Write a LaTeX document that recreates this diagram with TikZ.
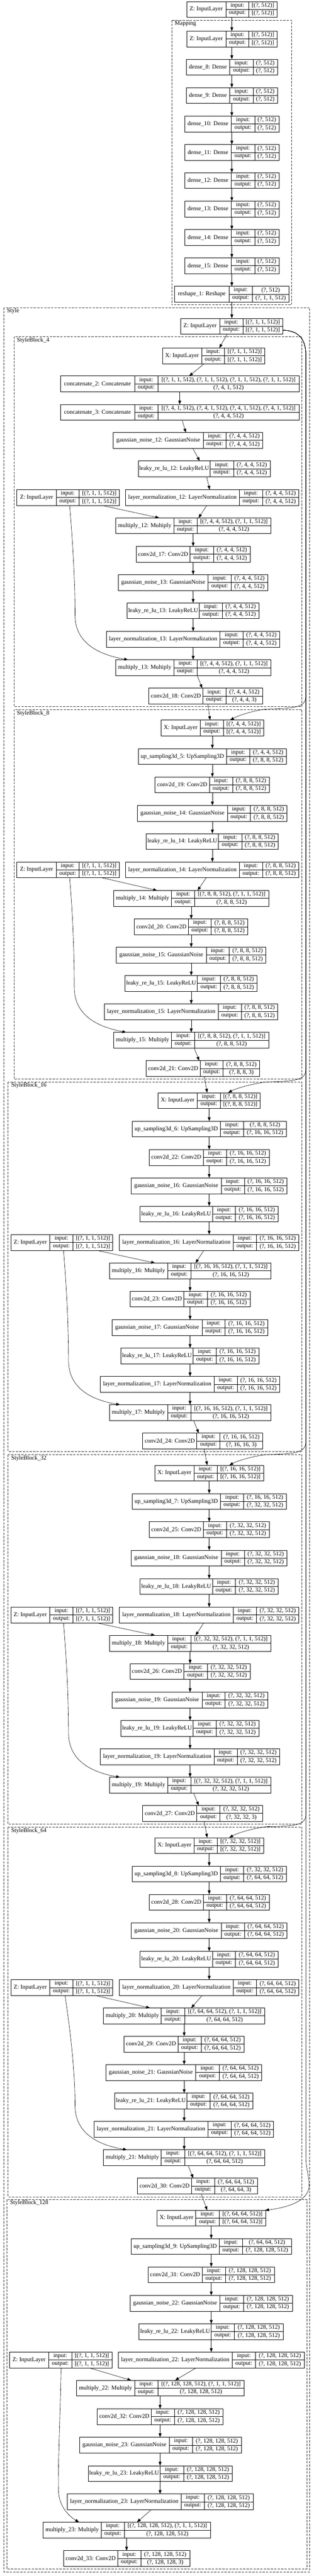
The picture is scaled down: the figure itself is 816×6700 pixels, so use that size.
\documentclass[tikz,border=0pt]{standalone}
\usepackage{fontspec}
\setmainfont{Liberation Serif}
\usetikzlibrary{arrows.meta,calc}
\newcommand\fs{\fontsize{15.4}{18}\selectfont}
\tikzset{
  clus/.style={draw=black!80, dash pattern=on 6pt off 3pt, line width=0.9pt},
  clab/.style={anchor=west, inner sep=0pt, font=\fs},
  lbox/.style={draw=black, line width=1pt, inner sep=0pt, outer sep=0pt, minimum height=41pt},
  cline/.style={draw=black, line width=1pt},
  txt/.style={inner sep=0pt, font=\fs},
  edge/.style={draw=black, line width=0.8pt, -{Triangle[length=10pt,width=7.5pt]}},
}
\newcommand\lay[9]{%
  \pgfmathsetmacro\lw{#5-#2}%
  \node[lbox, minimum width=\lw pt, anchor=north west] (#1) at (#2,#6) {};
  \draw[cline] (#3,#6) -- (#3,{#6+41}) (#4,#6) -- (#4,{#6+41}) (#3,{#6+20.5}) -- (#5,{#6+20.5});
  \node[txt] (#1-l) at ({(#2+#3)/2},{#6+20.5}) {#7};
  \node[txt] (#1-i) at ({(#3+#4)/2},{#6+10.25}) {input:};
  \node[txt] (#1-o) at ({(#3+#4)/2},{#6+30.75}) {output:};
  \node[txt] (#1-iv) at ({(#4+#5)/2},{#6+10.25}) {#8};
  \node[txt] (#1-ov) at ({(#4+#5)/2},{#6+30.75}) {#9};
}
\newcommand\ed[4]{\draw[edge] (#1.south -| #3,0) -- (#2.north -| #4,0);}
\newcommand\Zv{[(?, 1, 1, 512)]}
\begin{document}
\begin{tikzpicture}[x=1pt,y=-1pt]
\useasboundingbox (0,0) rectangle (816,6700);
\fill[white] (0,0) rectangle (816,6700);
% clusters
\draw[clus] (446,52.5) rectangle (758,793); \node[clab] (lMap) at (454,62) {Mapping};
\draw[clus] (10.4,800) rectangle (805,6689); \node[clab] (lSty) at (18,809.5) {Style};
\draw[clus] (36.4,876) rectangle (785,1837.5); \node[clab] (lSB4) at (44,886) {StyleBlock\_4};
\draw[clus] (36.4,1845) rectangle (785,2806.5); \node[clab] (lSB8) at (44,1855) {StyleBlock\_8};
\draw[clus] (21,2814) rectangle (785,3775); \node[clab] (lSB16) at (29,2823.6) {StyleBlock\_16};
\draw[clus] (21,3783) rectangle (785,4744.6); \node[clab] (lSB32) at (29,3792.5) {StyleBlock\_32};
\draw[clus] (21,4752) rectangle (785,5713.6); \node[clab] (lSB64) at (29,4762) {StyleBlock\_64};
\draw[clus] (18,5720.7) rectangle (797.6,6682); \node[clab] (lSB128) at (26,5730) {StyleBlock\_128};
% Mapping
\lay{zT}{485}{587}{647}{720}{4}{Z: InputLayer}{[(?, 512)]}{[(?, 512)]}
\lay{zM}{485}{587}{647}{720}{81}{Z: InputLayer}{[(?, 512)]}{[(?, 512)]}
\lay{d8}{484}{597}{658}{721}{154}{dense\_8: Dense}{(?, 512)}{(?, 512)}
\lay{d9}{484}{597}{658}{721}{228}{dense\_9: Dense}{(?, 512)}{(?, 512)}
\lay{d10}{480}{601}{662}{725}{302}{dense\_10: Dense}{(?, 512)}{(?, 512)}
\lay{d11}{480}{601}{662}{725}{376}{dense\_11: Dense}{(?, 512)}{(?, 512)}
\lay{d12}{480}{601}{662}{725}{449}{dense\_12: Dense}{(?, 512)}{(?, 512)}
\lay{d13}{480}{601}{662}{725}{523}{dense\_13: Dense}{(?, 512)}{(?, 512)}
\lay{d14}{480}{601}{662}{725}{597}{dense\_14: Dense}{(?, 512)}{(?, 512)}
\lay{d15}{480}{601}{662}{725}{670.7}{dense\_15: Dense}{(?, 512)}{(?, 512)}
\lay{rs}{454}{595}{656}{751}{744.6}{reshape\_1: Reshape}{(?, 512)}{(?, 1, 1, 512)}
% Style
\lay{zS}{469}{571}{631}{735}{828}{Z: InputLayer}{\Zv}{\Zv}
% SB4
\lay{x4}{422}{524}{584}{688}{905}{X: InputLayer}{\Zv}{\Zv}
\lay{cat2}{157}{350}{410}{778}{978}{concatenate\_2: Concatenate}{[(?, 1, 1, 512), (?, 1, 1, 512), (?, 1, 1, 512), (?, 1, 1, 512)]}{(?, 4, 1, 512)}
\lay{cat3}{157}{350}{410}{778}{1052}{concatenate\_3: Concatenate}{[(?, 4, 1, 512), (?, 4, 1, 512), (?, 4, 1, 512), (?, 4, 1, 512)]}{(?, 4, 4, 512)}
\lay{gn12}{294.5}{528}{588}{683}{1125}{gaussian\_noise\_12: GaussianNoise}{(?, 4, 4, 512)}{(?, 4, 4, 512)}
\lay{lr12}{359}{546}{607}{702}{1199}{leaky\_re\_lu\_12: LeakyReLU}{(?, 4, 4, 512)}{(?, 4, 4, 512)}
\lay{ln12}{326}{622}{682}{777}{1273.6}{layer\_normalization\_12: LayerNormalization}{(?, 4, 4, 512)}{(?, 4, 4, 512)}
\lay{z4}{44}{146}{206}{310}{1273.6}{Z: InputLayer}{\Zv}{\Zv}
\lay{m12}{300}{452}{512}{704}{1347}{multiply\_12: Multiply}{[(?, 4, 4, 512), (?, 1, 1, 512)]}{(?, 4, 4, 512)}
\lay{c17}{354}{494}{555}{650}{1421}{conv2d\_17: Conv2D}{(?, 4, 4, 512)}{(?, 4, 4, 512)}
\lay{gn13}{307.5}{541}{601}{696}{1494.6}{gaussian\_noise\_13: GaussianNoise}{(?, 4, 4, 512)}{(?, 4, 4, 512)}
\lay{lr13}{330}{518}{578}{673}{1568}{leaky\_re\_lu\_13: LeakyReLU}{(?, 4, 4, 512)}{(?, 4, 4, 512)}
\lay{ln13}{276}{572}{632}{727}{1642}{layer\_normalization\_13: LayerNormalization}{(?, 4, 4, 512)}{(?, 4, 4, 512)}
\lay{m13}{300}{452}{512}{704}{1716}{multiply\_13: Multiply}{[(?, 4, 4, 512), (?, 1, 1, 512)]}{(?, 4, 4, 512)}
\lay{c18}{387}{527.6}{587}{683}{1790}{conv2d\_18: Conv2D}{(?, 4, 4, 512)}{(?, 4, 4, 3)}
% SB8
\lay{x8}{419}{520}{581}{685}{1873}{X: InputLayer}{[(?, 4, 4, 512)]}{[(?, 4, 4, 512)]}
\lay{up5}{359}{588.5}{649}{744.5}{1947}{up\_sampling3d\_5: UpSampling3D}{(?, 4, 4, 512)}{(?, 8, 8, 512)}
\lay{c19}{403}{544}{604.5}{700}{2021}{conv2d\_19: Conv2D}{(?, 8, 8, 512)}{(?, 8, 8, 512)}
\lay{gn14}{357}{591}{651}{746}{2095}{gaussian\_noise\_14: GaussianNoise}{(?, 8, 8, 512)}{(?, 8, 8, 512)}
\lay{lr14}{380}{567.6}{628.5}{723}{2168}{leaky\_re\_lu\_14: LeakyReLU}{(?, 8, 8, 512)}{(?, 8, 8, 512)}
\lay{ln14}{326}{622}{682}{777}{2242}{layer\_normalization\_14: LayerNormalization}{(?, 8, 8, 512)}{(?, 8, 8, 512)}
\lay{z8}{44}{146}{206}{310}{2242}{Z: InputLayer}{\Zv}{\Zv}
\lay{m14}{295}{446}{506}{698}{2316}{multiply\_14: Multiply}{[(?, 8, 8, 512), (?, 1, 1, 512)]}{(?, 8, 8, 512)}
\lay{c20}{349}{490}{549}{644}{2390}{conv2d\_20: Conv2D}{(?, 8, 8, 512)}{(?, 8, 8, 512)}
\lay{gn15}{302}{536}{596}{691}{2463.6}{gaussian\_noise\_15: GaussianNoise}{(?, 8, 8, 512)}{(?, 8, 8, 512)}
\lay{lr15}{325}{512.5}{573}{668}{2537}{leaky\_re\_lu\_15: LeakyReLU}{(?, 8, 8, 512)}{(?, 8, 8, 512)}
\lay{ln15}{271}{567}{627.5}{722}{2611}{layer\_normalization\_15: LayerNormalization}{(?, 8, 8, 512)}{(?, 8, 8, 512)}
\lay{m15}{295}{446}{506}{698}{2685}{multiply\_15: Multiply}{[(?, 8, 8, 512), (?, 1, 1, 512)]}{(?, 8, 8, 512)}
\lay{c21}{380}{520}{580}{675}{2758.6}{conv2d\_21: Conv2D}{(?, 8, 8, 512)}{(?, 8, 8, 3)}
% SB16
\lay{x16}{411}{512.5}{573}{676}{2842}{X: InputLayer}{[(?, 8, 8, 512)]}{[(?, 8, 8, 512)]}
\lay{up6}{343.5}{573}{633}{744.5}{2916}{up\_sampling3d\_6: UpSampling3D}{(?, 8, 8, 512)}{(?, 16, 16, 512)}
\lay{c22}{388}{528.6}{588.5}{700}{2990}{conv2d\_22: Conv2D}{(?, 16, 16, 512)}{(?, 16, 16, 512)}
\lay{gn16}{341}{575}{635}{746}{3063.6}{gaussian\_noise\_16: GaussianNoise}{(?, 16, 16, 512)}{(?, 16, 16, 512)}
\lay{lr16}{364}{552}{612}{723}{3137}{leaky\_re\_lu\_16: LeakyReLU}{(?, 16, 16, 512)}{(?, 16, 16, 512)}
\lay{ln16}{310.6}{606}{666.5}{777}{3211}{layer\_normalization\_16: LayerNormalization}{(?, 16, 16, 512)}{(?, 16, 16, 512)}
\lay{z16}{28}{129.5}{190}{293}{3211}{Z: InputLayer}{\Zv}{\Zv}
\lay{m16}{284.6}{435.5}{496}{704}{3285}{multiply\_16: Multiply}{[(?, 16, 16, 512), (?, 1, 1, 512)]}{(?, 16, 16, 512)}
\lay{c23}{338}{478}{539}{650}{3358}{conv2d\_23: Conv2D}{(?, 16, 16, 512)}{(?, 16, 16, 512)}
\lay{gn17}{291}{525.5}{585}{696}{3432.5}{gaussian\_noise\_17: GaussianNoise}{(?, 16, 16, 512)}{(?, 16, 16, 512)}
\lay{lr17}{314}{502}{562}{673}{3506}{leaky\_re\_lu\_17: LeakyReLU}{(?, 16, 16, 512)}{(?, 16, 16, 512)}
\lay{ln17}{260.7}{556}{616.5}{727}{3580}{layer\_normalization\_17: LayerNormalization}{(?, 16, 16, 512)}{(?, 16, 16, 512)}
\lay{m17}{284.6}{435.5}{496}{704}{3653.6}{multiply\_17: Multiply}{[(?, 16, 16, 512), (?, 1, 1, 512)]}{(?, 16, 16, 512)}
\lay{c24}{371}{511.5}{572}{683}{3727.5}{conv2d\_24: Conv2D}{(?, 16, 16, 512)}{(?, 16, 16, 3)}
% SB32
\lay{x32}{403}{504}{564.5}{685}{3811}{X: InputLayer}{[(?, 16, 16, 512)]}{[(?, 16, 16, 512)]}
\lay{up7}{343.5}{573}{633}{744.5}{3884.6}{up\_sampling3d\_7: UpSampling3D}{(?, 16, 16, 512)}{(?, 32, 32, 512)}
\lay{c25}{388}{528.6}{588.5}{700}{3958}{conv2d\_25: Conv2D}{(?, 32, 32, 512)}{(?, 32, 32, 512)}
\lay{gn18}{341}{575}{635}{746}{4032}{gaussian\_noise\_18: GaussianNoise}{(?, 32, 32, 512)}{(?, 32, 32, 512)}
\lay{lr18}{364}{552}{612}{723}{4106}{leaky\_re\_lu\_18: LeakyReLU}{(?, 32, 32, 512)}{(?, 32, 32, 512)}
\lay{ln18}{310.6}{606}{666.5}{777}{4180}{layer\_normalization\_18: LayerNormalization}{(?, 32, 32, 512)}{(?, 32, 32, 512)}
\lay{z32}{28}{129.5}{190}{293}{4180}{Z: InputLayer}{\Zv}{\Zv}
\lay{m18}{284.6}{435.5}{496}{704}{4253.6}{multiply\_18: Multiply}{[(?, 32, 32, 512), (?, 1, 1, 512)]}{(?, 32, 32, 512)}
\lay{c26}{338}{478}{539}{650}{4327}{conv2d\_26: Conv2D}{(?, 32, 32, 512)}{(?, 32, 32, 512)}
\lay{gn19}{291}{525.5}{585}{696}{4401}{gaussian\_noise\_19: GaussianNoise}{(?, 32, 32, 512)}{(?, 32, 32, 512)}
\lay{lr19}{314}{502}{562}{673}{4474.6}{leaky\_re\_lu\_19: LeakyReLU}{(?, 32, 32, 512)}{(?, 32, 32, 512)}
\lay{ln19}{260.7}{556}{616.5}{727}{4548.6}{layer\_normalization\_19: LayerNormalization}{(?, 32, 32, 512)}{(?, 32, 32, 512)}
\lay{m19}{284.6}{435.5}{496}{704}{4622.5}{multiply\_19: Multiply}{[(?, 32, 32, 512), (?, 1, 1, 512)]}{(?, 32, 32, 512)}
\lay{c27}{371}{511.5}{572}{683}{4696}{conv2d\_27: Conv2D}{(?, 32, 32, 512)}{(?, 32, 32, 3)}
% SB64
\lay{x64}{403}{504}{564.5}{685}{4779.6}{X: InputLayer}{[(?, 32, 32, 512)]}{[(?, 32, 32, 512)]}
\lay{up8}{343.5}{573}{633}{744.5}{4853.6}{up\_sampling3d\_8: UpSampling3D}{(?, 32, 32, 512)}{(?, 64, 64, 512)}
\lay{c28}{388}{528.6}{588.5}{700}{4927}{conv2d\_28: Conv2D}{(?, 64, 64, 512)}{(?, 64, 64, 512)}
\lay{gn20}{341}{575}{635}{746}{5001}{gaussian\_noise\_20: GaussianNoise}{(?, 64, 64, 512)}{(?, 64, 64, 512)}
\lay{lr20}{364}{552}{612}{723}{5075}{leaky\_re\_lu\_20: LeakyReLU}{(?, 64, 64, 512)}{(?, 64, 64, 512)}
\lay{ln20}{310.6}{606}{666.5}{777}{5149}{layer\_normalization\_20: LayerNormalization}{(?, 64, 64, 512)}{(?, 64, 64, 512)}
\lay{z64}{28}{129.5}{190}{293}{5149}{Z: InputLayer}{\Zv}{\Zv}
\lay{m20}{268.5}{419}{480}{688}{5222.5}{multiply\_20: Multiply}{[(?, 64, 64, 512), (?, 1, 1, 512)]}{(?, 64, 64, 512)}
\lay{c29}{322.6}{462.5}{523}{634}{5296}{conv2d\_29: Conv2D}{(?, 64, 64, 512)}{(?, 64, 64, 512)}
\lay{gn21}{275}{509}{570}{680.5}{5370}{gaussian\_noise\_21: GaussianNoise}{(?, 64, 64, 512)}{(?, 64, 64, 512)}
\lay{lr21}{298.6}{486}{546}{657}{5444}{leaky\_re\_lu\_21: LeakyReLU}{(?, 64, 64, 512)}{(?, 64, 64, 512)}
\lay{ln21}{244.5}{540.6}{601}{711}{5517.5}{layer\_normalization\_21: LayerNormalization}{(?, 64, 64, 512)}{(?, 64, 64, 512)}
\lay{m21}{268.5}{419}{480}{688}{5591.4}{multiply\_21: Multiply}{[(?, 64, 64, 512), (?, 1, 1, 512)]}{(?, 64, 64, 512)}
\lay{c30}{357.5}{498}{558}{669}{5665}{conv2d\_30: Conv2D}{(?, 64, 64, 512)}{(?, 64, 64, 3)}
% SB128
\lay{x128}{408.4}{509}{570}{690.4}{5748.6}{X: InputLayer}{[(?, 64, 64, 512)]}{[(?, 64, 64, 512)]}
\lay{up9}{341}{570}{630}{757.5}{5822.5}{up\_sampling3d\_9: UpSampling3D}{(?, 64, 64, 512)}{(?, 128, 128, 512)}
\lay{c31}{385}{525.5}{586}{713}{5896}{conv2d\_31: Conv2D}{(?, 128, 128, 512)}{(?, 128, 128, 512)}
\lay{gn22}{338}{572}{632.7}{760}{5970}{gaussian\_noise\_22: GaussianNoise}{(?, 128, 128, 512)}{(?, 128, 128, 512)}
\lay{lr22}{361.6}{549}{609}{736}{6044}{leaky\_re\_lu\_22: LeakyReLU}{(?, 128, 128, 512)}{(?, 128, 128, 512)}
\lay{ln22}{307.5}{603.5}{664}{791}{6117.5}{layer\_normalization\_22: LayerNormalization}{(?, 128, 128, 512)}{(?, 128, 128, 512)}
\lay{z128}{25}{126.4}{187}{291}{6117.5}{Z: InputLayer}{\Zv}{\Zv}
\lay{m22}{198.7}{350}{410.5}{634}{6191}{multiply\_22: Multiply}{[(?, 128, 128, 512), (?, 1, 1, 512)]}{(?, 128, 128, 512)}
\lay{c32}{253}{393}{453}{580}{6265}{conv2d\_32: Conv2D}{(?, 128, 128, 512)}{(?, 128, 128, 512)}
\lay{gn23}{206.6}{440}{500}{627.5}{6339}{gaussian\_noise\_23: GaussianNoise}{(?, 128, 128, 512)}{(?, 128, 128, 512)}
\lay{lr23}{229.4}{416}{477}{604}{6413}{leaky\_re\_lu\_23: LeakyReLU}{(?, 128, 128, 512)}{(?, 128, 128, 512)}
\lay{ln23}{175}{471}{531}{658}{6486.5}{layer\_normalization\_23: LayerNormalization}{(?, 128, 128, 512)}{(?, 128, 128, 512)}
\lay{m23}{112}{263}{323}{547}{6560}{multiply\_23: Multiply}{[(?, 128, 128, 512), (?, 1, 1, 512)]}{(?, 128, 128, 512)}
\lay{c33}{165.5}{306}{366}{493}{6634}{conv2d\_33: Conv2D}{(?, 128, 128, 512)}{(?, 128, 128, 3)}
% edges: mapping
\ed{zT}{zM}{602.5}{602.5}
\ed{zM}{d8}{602.5}{602.5}
\ed{d8}{d9}{602.5}{602.5}
\ed{d9}{d10}{602.5}{602.5}
\ed{d10}{d11}{602.5}{602.5}
\ed{d11}{d12}{602.5}{602.5}
\ed{d12}{d13}{602.5}{602.5}
\ed{d13}{d14}{602.5}{602.5}
\ed{d14}{d15}{602.5}{602.5}
\ed{d15}{rs}{602.5}{602.5}
\ed{rs}{zS}{602.5}{602.5}
% SB4
\ed{zS}{x4}{590.5}{570}
\ed{x4}{cat2}{530.7}{491.7}
\ed{cat2}{cat3}{467}{467}
\ed{cat3}{gn12}{473.5}{483}
\ed{gn12}{lr12}{501}{519}
\ed{lr12}{ln12}{537}{545}
\ed{ln12}{m12}{537.5}{516}
\ed{z4}{m12}{265}{414}
\ed{m12}{c17}{502}{502}
\ed{c17}{gn13}{502}{502}
\ed{gn13}{lr13}{502}{502}
\ed{lr13}{ln13}{502}{502}
\ed{ln13}{m13}{502}{502}
\draw[edge] (z4.south -| 181,0) .. controls (190,1420) and (195,1520) .. (195,1600) .. controls (195,1680) and (270,1705) .. (m13.north -| 333,0);
\ed{m13}{c18}{512.5}{525.5}
\ed{c18}{x8}{540}{546}
% SB8
\ed{x8}{up5}{552}{552}
\ed{up5}{c19}{552}{552}
\ed{c19}{gn14}{552}{552}
\ed{gn14}{lr14}{552}{552}
\ed{lr14}{ln14}{552}{552}
\ed{ln14}{m14}{536}{513.5}
\ed{z8}{m14}{265}{408.4}
\ed{m14}{c20}{497}{497}
\ed{c20}{gn15}{497}{497}
\ed{gn15}{lr15}{497}{497}
\ed{lr15}{ln15}{497}{497}
\ed{ln15}{m15}{497}{497}
\draw[edge] (z8.south -| 181,0) .. controls (190,2388) and (193,2488) .. (193,2568) .. controls (193,2648) and (266,2673) .. (m15.north -| 328,0);
\ed{m15}{c21}{504.7}{517.7}
\ed{c21}{x16}{530.7}{538.5}
% SB16
\ed{x16}{up6}{543.7}{543.7}
\ed{up6}{c22}{543.7}{543.7}
\ed{c22}{gn16}{543.7}{543.7}
\ed{gn16}{lr16}{543.7}{543.7}
\ed{lr16}{ln16}{543.7}{543.7}
\ed{ln16}{m16}{529.7}{508.3}
\ed{z16}{m16}{251}{403}
\ed{m16}{c23}{494}{494}
\ed{c23}{gn17}{494}{494}
\ed{gn17}{lr17}{494}{494}
\ed{lr17}{ln17}{494}{494}
\ed{ln17}{m17}{494}{494}
\draw[edge] (z16.south -| 165,0) .. controls (174,3358) and (178,3458) .. (178,3538) .. controls (178,3618) and (250,3643) .. (m17.north -| 312,0);
\ed{m17}{c24}{503}{516.6}
\ed{c24}{x32}{530.7}{538.5}
% SB32
\ed{x32}{up7}{543.7}{543.7}
\ed{up7}{c25}{543.7}{543.7}
\ed{c25}{gn18}{543.7}{543.7}
\ed{gn18}{lr18}{543.7}{543.7}
\ed{lr18}{ln18}{543.7}{543.7}
\ed{ln18}{m18}{529.7}{508.3}
\ed{z32}{m18}{251}{403}
\ed{m18}{c26}{494}{494}
\ed{c26}{gn19}{494}{494}
\ed{gn19}{lr19}{494}{494}
\ed{lr19}{ln19}{494}{494}
\ed{ln19}{m19}{494}{494}
\draw[edge] (z32.south -| 165,0) .. controls (174,4326.6) and (178,4426.6) .. (178,4506.6) .. controls (178,4586.6) and (250,4611.6) .. (m19.north -| 312,0);
\ed{m19}{c27}{503}{516.6}
\ed{c27}{x64}{530.7}{538.5}
% SB64
\ed{x64}{up8}{543.7}{543.7}
\ed{up8}{c28}{543.7}{543.7}
\ed{c28}{gn20}{543.7}{543.7}
\ed{gn20}{lr20}{543.7}{543.7}
\ed{lr20}{ln20}{543.7}{543.7}
\ed{ln20}{m20}{525.5}{497}
\ed{z64}{m20}{247}{390}
\ed{m20}{c29}{478.6}{478.6}
\ed{c29}{gn21}{478.6}{478.6}
\ed{gn21}{lr21}{478.6}{478.6}
\ed{lr21}{ln21}{478.6}{478.6}
\ed{ln21}{m21}{478.6}{478.6}
\draw[edge] (z64.south -| 169,0) .. controls (185,5296) and (195,5396) .. (195,5476) .. controls (195,5556) and (268,5581) .. (m21.north -| 330,0);
\ed{m21}{c30}{489}{502}
\ed{c30}{x128}{523}{538.5}
% SB128
\ed{x128}{up9}{549}{549}
\ed{up9}{c31}{549}{549}
\ed{c31}{gn22}{549}{549}
\ed{gn22}{lr22}{549}{549}
\ed{lr22}{ln22}{549}{549}
\ed{ln22}{m22}{510}{455}
\ed{z128}{m22}{231.5}{341}
\ed{m22}{c32}{416}{416}
\ed{c32}{gn23}{416}{416}
\ed{gn23}{lr23}{416}{416}
\ed{lr23}{ln23}{416}{416}
\ed{ln23}{m23}{393}{356}
\draw[edge] (z128.south -| 158.7,0) .. controls (156,6300) and (150,6430) .. (152,6480) .. controls (154,6520) and (180,6545) .. (m23.north -| 205.5,0);
\ed{m23}{c33}{329}{329}
% right channel: Style Z -> X of each block
\draw[edge] (zS.east |- zS-ov) .. controls (775,860) and (795,880) .. (795,925) -- (795,1808) .. controls (795,1836) and (780,1843) .. (692,1844) .. controls (650,1850) and (618,1862) .. (x8.north -| 598,0);
\draw[edge] (zS.east |- zS-ov) .. controls (775,860) and (795,880) .. (795,925) -- (795,2778) .. controls (795,2806) and (780,2813) .. (692,2814) .. controls (650,2820) and (613,2831) .. (x16.north -| 593,0);
\draw[edge] (zS.east |- zS-ov) .. controls (775,860) and (795,880) .. (795,925) -- (795,3747) .. controls (795,3775) and (780,3782) .. (692,3783) .. controls (650,3789) and (616,3800) .. (x32.north -| 596,0);
\draw[edge] (zS.east |- zS-ov) .. controls (775,860) and (795,880) .. (795,925) -- (795,4716) .. controls (795,4744) and (780,4750) .. (692,4751) .. controls (650,4757) and (616,4768) .. (x64.north -| 596,0);
\draw[edge] (zS.east |- zS-ov) .. controls (775,860) and (795,880) .. (795,925) -- (795,5610) .. controls (795,5645) and (803,5650) .. (803,5685) .. controls (803,5725) and (745,5742) .. (x128.north -| 689,0);
\end{tikzpicture}
\end{document}
